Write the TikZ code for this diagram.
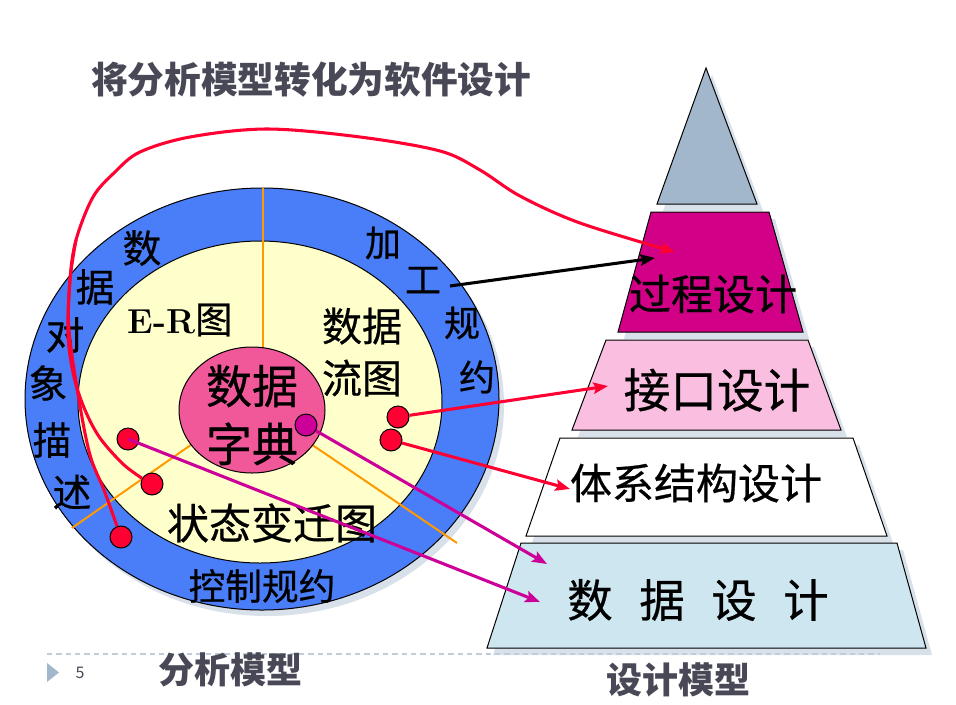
\documentclass[tikz,border=0pt]{standalone}
\usepackage{fontspec}
\newfontfamily\cjk{Noto Sans CJK SC}
\newfontfamily\cjkf[FakeBold=0.6]{Noto Sans CJK SC}
\usetikzlibrary{arrows.meta}
\definecolor{bluec}{HTML}{4A7DF8}
\definecolor{yelc}{HTML}{FFFFCC}
\definecolor{pinkc}{HTML}{F0589A}
\definecolor{redc}{HTML}{FF0033}
\definecolor{magc}{HTML}{CC0099}
\definecolor{orc}{HTML}{FF9900}
\definecolor{topc}{HTML}{A3B7CC}
\definecolor{t2c}{HTML}{D10087}
\definecolor{t3c}{HTML}{FABEE0}
\definecolor{t5c}{HTML}{CDE6F0}
\definecolor{shc}{HTML}{D8E0EA}
\definecolor{grayt}{HTML}{484856}
\definecolor{dashc}{HTML}{BFCCDA}
\newcommand{\fsz}[1]{\fontsize{#1pt}{#1pt}\selectfont}
\begin{document}
\begin{tikzpicture}[x=0.75pt,y=-0.75pt,
  lbl/.style={inner sep=0pt, outer sep=0pt},
  rdot/.style={circle, draw=black, fill=redc, minimum size=16.5pt, inner sep=0pt, line width=0.75pt},
  mdot/.style={circle, draw=black, fill=magc, minimum size=16.5pt, inner sep=0pt, line width=0.75pt},
  redln/.style={draw=redc, line width=2.3pt},
  magln/.style={draw=magc, line width=2.3pt},
  blkln/.style={draw=black, line width=2.3pt},
  arr/.style={-{Stealth[length=11pt,width=8.5pt,inset=2pt]}},
  tier/.style={draw=black, line width=0.75pt},
  orln/.style={draw=orc, line width=1.5pt},
  shd/.style={fill=shc, draw=none}
]
\useasboundingbox (0,0) rectangle (956,704);
\fill[white] (0,0) rectangle (956,704);

% ---------- title ----------
\node[lbl, font=\cjk\bfseries\fsz{27.5}, text=grayt] (title) at (311,80) {将分析模型转化为软件设计};

% ---------- analysis model (ellipses) ----------
\fill[shd] (267,405) ellipse [x radius=177.75pt, y radius=158.25pt];
\draw[fill=bluec, line width=0.75pt] (262,399) ellipse [x radius=177.75pt, y radius=158.25pt];
\draw[fill=yelc, line width=0.75pt] (260,402) ellipse [x radius=136.5pt, y radius=120.75pt];
\draw[orln] (263,188) -- (263,348);
\draw[orln] (195,442) -- (72,528);
\draw[orln] (308,442) -- (457,543);
\draw[fill=pinkc, line width=0.75pt] (252,410) ellipse [x radius=54.75pt, y radius=47.25pt];

% inner texts
\node[lbl, font=\cjkf\fsz{34.5}, align=center] (dd) at (252,415) {数据\\[9pt]字典};
\node[lbl] (er) at (180,320) {{\bfseries\fsz{26}E-R}{\cjkf\fsz{28}图}};
\node[lbl, font=\cjkf\fsz{30}, align=center] (dfd) at (362,352) {数据\\[9pt]流图};
\node[lbl, font=\cjkf\fsz{31.5}] (std) at (272,523) {状态变迁图};
\node[lbl, font=\cjkf\fsz{27.5}] (kz) at (262,586) {控制规约};

% left ring text
\node[lbl, font=\cjkf\fsz{29}] (l1) at (142,248) {数};
\node[lbl, font=\cjkf\fsz{29}] (l2) at (95,287) {据};
\node[lbl, font=\cjkf\fsz{29}] (l3) at (65,335) {对};
\node[lbl, font=\cjkf\fsz{29}] (l4) at (48,383) {象};
\node[lbl, font=\cjkf\fsz{29}] (l5) at (52,440) {描};
\node[lbl, font=\cjkf\fsz{29}] (l6) at (72,492) {述};
% right ring text
\node[lbl, font=\cjkf\fsz{27}] (r1) at (383,243) {加};
\node[lbl, font=\cjkf\fsz{27}] (r2) at (423,280) {工};
\node[lbl, font=\cjkf\fsz{27}] (r3) at (462,323) {规};
\node[lbl, font=\cjkf\fsz{27}] (r4) at (477,377) {约};

% ---------- design model (pyramid) ----------
\fill[shd] (712,75) -- (763,211) -- (663,211) -- cycle;
\fill[shd] (657,219) -- (775,219) -- (809,339) -- (624,339) -- cycle;
\fill[shd] (612,347) -- (814,347) -- (847,437) -- (578,437) -- cycle;
\fill[shd] (566,445) -- (859,445) -- (893,543) -- (532,543) -- cycle;
\fill[shd] (527,550) -- (903,550) -- (932,655) -- (493,655) -- cycle;

\draw[tier, fill=topc] (706,68) -- (757,204) -- (657,204) -- cycle;
\draw[tier, fill=t2c] (651,212) -- (769,212) -- (803,332) -- (618,332) -- cycle;
\draw[tier, fill=t3c] (606,340) -- (808,340) -- (841,430) -- (572,430) -- cycle;
\draw[tier, fill=white] (560,438) -- (853,438) -- (887,536) -- (526,536) -- cycle;
\draw[tier, fill=t5c] (521,543) -- (897,543) -- (926,648) -- (487,648) -- cycle;

\node[lbl, font=\cjkf\fsz{31.5}] (p2) at (713,294) {过程设计};
\node[lbl, font=\cjkf\fsz{35}] (p3) at (717,390) {接口设计};
\node[lbl, font=\cjkf\fsz{31.5}] (p4) at (696,483) {体系结构设计};
\node[lbl, font=\cjkf\fsz{34}] (p5) at (698,600) {数\hspace{20pt}据\hspace{20pt}设\hspace{20pt}计};

% arrow targets
\coordinate (t2a) at (675,252);
\coordinate (t2b) at (655,258);
\coordinate (t3) at (608,386);
\coordinate (t4) at (570,489);
\coordinate (t5a) at (547,564);
\coordinate (t5b) at (540,602);
\coordinate (gs) at (450,286);

% ---------- dots ----------
\node[rdot] (d1) at (398,417) {};
\node[rdot] (d2) at (391,440) {};
\node[rdot] (d3) at (128,439) {};
\node[rdot] (d4) at (152,484) {};
\node[rdot] (d5) at (121,537) {};
\node[mdot] (m1) at (306,425) {};

% ---------- connectors ----------
\draw[redln, arr] plot[smooth, tension=0.55] coordinates {(d5.110) (104,490) (90,455) (79,400) (69,330) (70,280) (76,240) (93,197) (115,172) (140,152) (190,137) (267,129) (360,137) (440,151) (480,170) (520,196) (580,223) (t2a)};
\draw[redln] plot[smooth, tension=0.55] coordinates {(d4.150) (123,464) (100,438) (85,410) (74,377) (68,335) (70,280) (76,240)};
\draw[blkln, arr] (gs) -- (t2b);
\draw[redln, arr] (d1) -- (t3);
\draw[redln, arr] (d2) -- (t4);
\draw[magln, arr] (m1) -- (t5a);
\draw[magln, arr] (d3.center) -- (t5b);

% ---------- footer ----------
\draw[dashc, line width=1pt, dash pattern=on 4pt off 3pt] (47,654) -- (880,654);
\fill[topc] (47,663) -- (59,672.5) -- (47,682) -- cycle;
\node[lbl, font=\cjk\fsz{12}, text=grayt] (pg) at (80,673) {5};
\node[lbl, font=\cjk\bfseries\fsz{27}, text=grayt] (am) at (230,670) {分析模型};
\node[lbl, font=\cjk\bfseries\fsz{27}, text=grayt] (dm) at (678,680) {设计模型};
\end{tikzpicture}
\end{document}
